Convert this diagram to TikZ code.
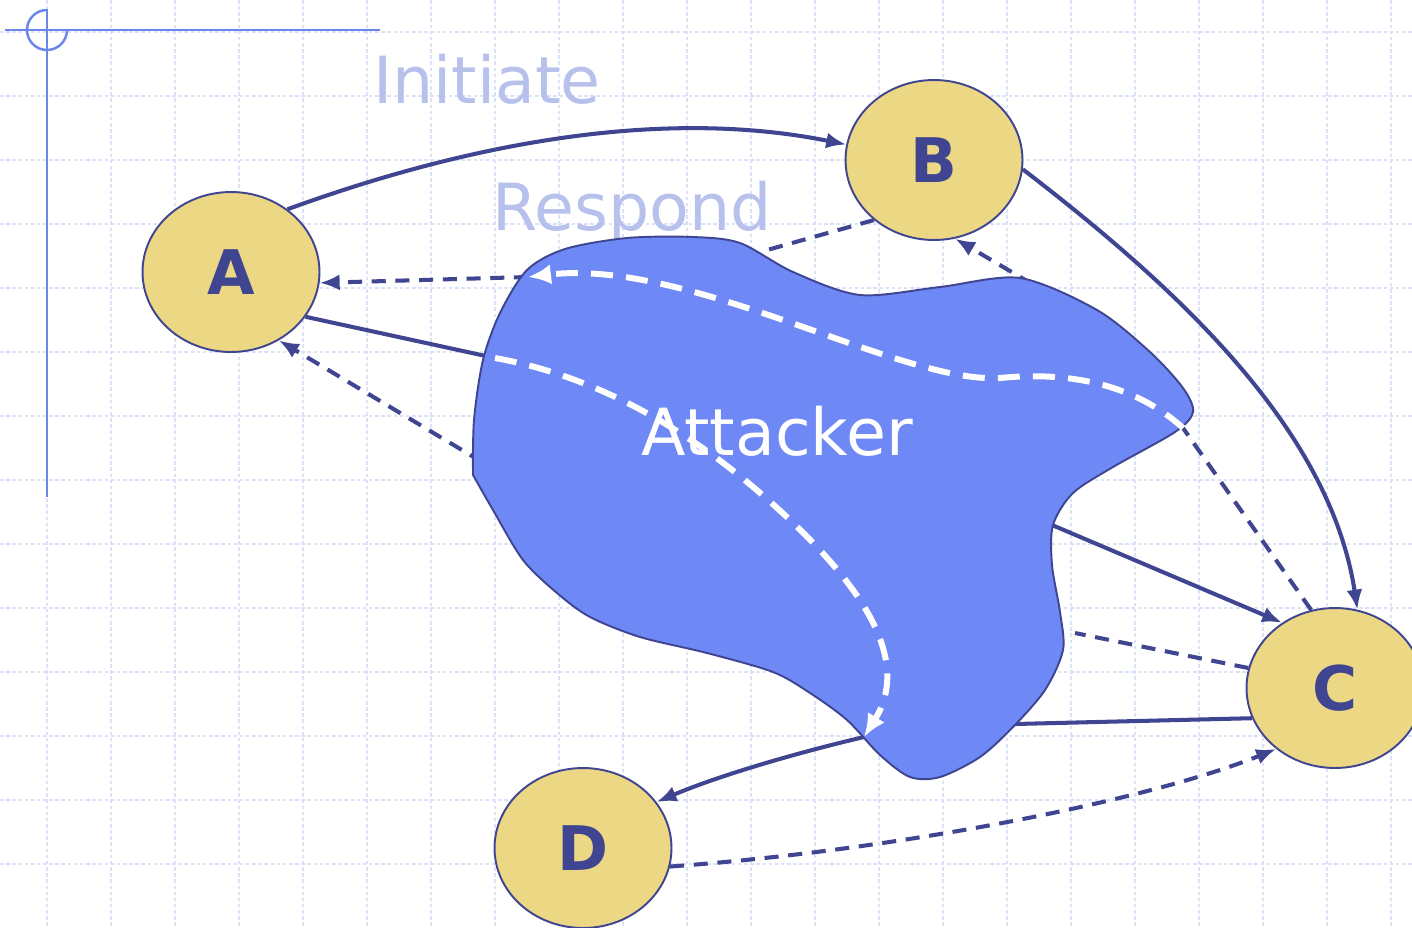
\documentclass[tikz,border=0pt]{standalone}
\usepackage{fontspec}
\setmainfont{DejaVu Sans}
\usepackage{tikz}
\usetikzlibrary{shapes.geometric, arrows.meta}
\usepackage{xcolor}
\definecolor{navy}{HTML}{3F4590}
\definecolor{sand}{HTML}{EBD784}
\definecolor{cloudblue}{HTML}{6E88F5}
\definecolor{rulerblue}{HTML}{6B87EB}
\definecolor{gridblue}{HTML}{DAE2F8}
\definecolor{labelblue}{HTML}{B7C1EC}
\tikzstyle{party} = [ellipse, draw=navy, line width=1.1pt, fill=sand, minimum width=3.54cm, minimum height=3.2cm, inner sep=0pt, text=navy, font=\fontsize{35}{38}\selectfont\bfseries]
\tikzstyle{attacker} = [draw=navy, line width=1.1pt, fill=cloudblue]
\tikzstyle{link} = [draw=navy, line width=2.3pt]
\tikzstyle{linkdash} = [link, dash pattern=on 8pt off 5.5pt]
\tikzstyle{hijack} = [draw=white, line width=3.4pt, dash pattern=on 12.5pt off 7.5pt]
\tikzstyle{tag} = [text=labelblue, font=\fontsize{37}{40}\selectfont, anchor=base, inner sep=0pt]
\tikzstyle{gridline} = [draw=gridblue, line width=0.7pt, dash pattern=on 2pt off 1.5pt]
\tikzstyle{ruler} = [draw=rulerblue, line width=1.4pt]
\tikzstyle{headtip} = [-{Latex[length=0.4cm, width=0.32cm]}]
\tikzstyle{bigtip} = [-{Latex[length=0.46cm, width=0.4cm]}]

\begin{document}
\begin{tikzpicture}[x=0.02cm, y=-0.02cm]
    \useasboundingbox[fill=white] (0,0) rectangle (1412,927);

    % Background grid
    \foreach \gx in {47,111,...,1391}
        \draw[gridline] (\gx,0) -- (\gx,927);
    \foreach \gy in {32,96,...,864}
        \draw[gridline] (0,\gy) -- (1412,\gy);

    % Slide ruler
    \draw[ruler] (5,30) -- (380,30);
    \draw[ruler] (47,9) -- (47,497);
    \draw[ruler] (47,10) arc (270:0:20);

    % Place nodes
    \node [party] (A) at (231,272) {A};
    \node [party] (B) at (934,160) {B};
    \node [party] (C) at (1335,688) {C};
    \node [party] (D) at (583,848) {D};

    \node [tag] (initiate) at (487,103) {Initiate};
    \node [tag] (respond) at (632,230) {Respond};

    % Points on the attacker's edge
    \coordinate (atkAin) at (495,358);
    \coordinate (atkAout) at (528,277);
    \coordinate (atkAlow) at (482,462);
    \coordinate (atkBin) at (760,252);
    \coordinate (atkBout) at (1032,284);
    \coordinate (atkCtop) at (1183,428);
    \coordinate (atkCout) at (1052,525);
    \coordinate (atkCdash) at (1075,633);
    \coordinate (atkCsolid) at (1015,724);
    \coordinate (atkD) at (864,737);

    % Draw edges
    \draw [link, headtip] (A.48) .. controls (450,150) and (650,105) .. (B.170);
    \draw [link, headtip] (B.-6) .. controls (1180,290) and (1330,430) .. (C.74);
    \draw [linkdash, headtip] (D.-12) .. controls (900,850) and (1150,800) .. (C.226);
    \draw [link] (A.-31) -- (atkAin);
    \draw [linkdash, headtip] (atkAout) -- (A.-7);
    \draw [linkdash, headtip] (atkAlow) -- (A.-55);
    \draw [linkdash] (B.225) -- (atkBin);
    \draw [linkdash, headtip] (atkBout) -- (B.-75);
    \draw [linkdash] (C.107) -- (atkCtop);
    \draw [link, headtip] (atkCout) -- (C.129);
    \draw [linkdash] (C.167) -- (atkCdash);
    \draw [link] (C.200) -- (atkCsolid);
    \draw [link, headtip] (atkD) .. controls (800,752) and (720,775) .. (D.32);

    % The attacker
    \filldraw [attacker] plot [smooth] coordinates {(473,475) (474,420) (483,360) (500,313) (527,270) (565,249) (627,238) (693,237) (740,243) (793,272) (860,295) (940,287) (1020,278) (1097,310) (1150,352) (1183,388) (1193,412) (1175,432) (1113,467) (1073,493) (1053,525) (1052,565) (1060,612) (1063,650) (1045,690) (1013,727) (980,757) (940,777) (910,777) (880,755) (847,720) (810,693) (773,672) (707,653) (640,637) (590,617) (557,593) (523,560) (493,510) (473,475)} -- cycle;

    \draw [hijack, bigtip] (atkCtop) .. controls (1130,380) and (1060,372) .. (1000,378) .. controls (900,384) and (690,258) .. (atkAout);
    \draw [hijack, bigtip] (atkAin) .. controls (590,375) and (690,425) .. (790,520) .. controls (850,577) and (915,655) .. (atkD);

    \node [tag, text=white] (attackerlabel) at (777,455) {Attacker};
\end{tikzpicture}
\end{document}
